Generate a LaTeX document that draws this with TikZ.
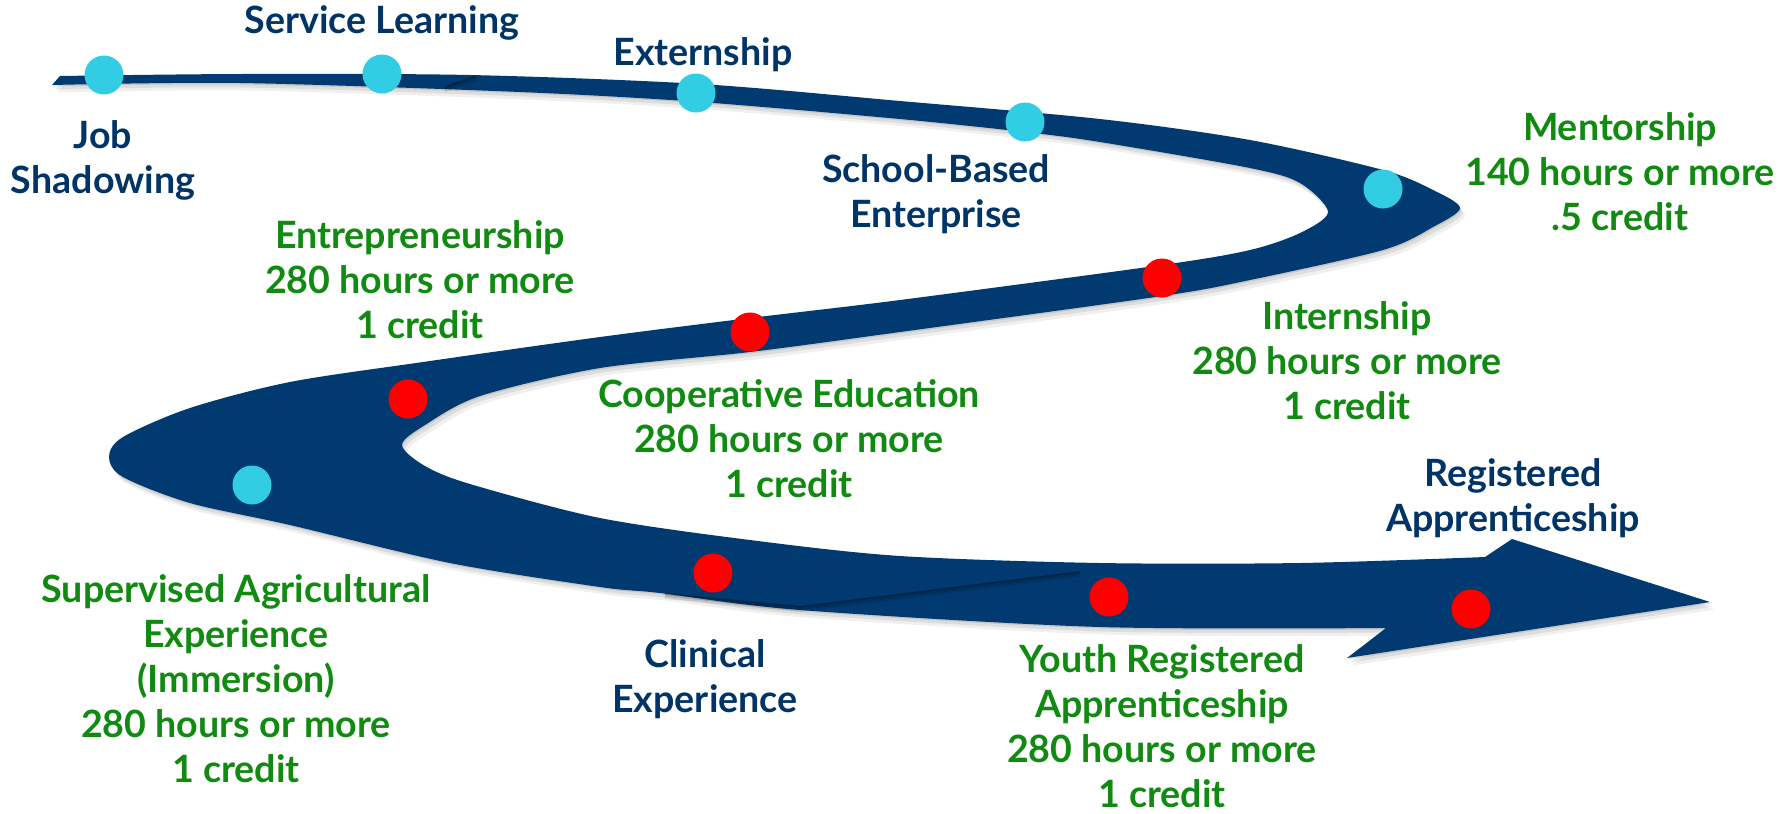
\documentclass[tikz,border=0pt]{standalone}
\usepackage{fontspec}
\setmainfont{Lato}
\usepackage{xcolor}
\usepackage{tikz}
\usetikzlibrary{positioning}

\definecolor{ribbonblue}{RGB}{0,58,112}
\definecolor{labelblue}{RGB}{0,51,102}
\definecolor{labelgreen}{RGB}{16,138,16}
\definecolor{dotcyan}{RGB}{50,205,228}

\newcommand{\labelfont}{\fontsize{10.7pt}{12.8pt}\selectfont\bfseries}

% outline of the s-shaped ribbon, in pixels
\newcommand{\ribbon}{plot[smooth, tension=0.5] coordinates {(60,76) (240,74) (470,75) (700,84) (900,101) (1100,119) (1250,140) (1383,170) (1433,190) (1460,208) (1433,227) (1383,250) (1250,280) (1162,296) (900,332) (750,352) (600,368) (480,396) (425,425) (402,445) (425,466) (470,484) (600,518) (750,540) (900,556) (1100,563) (1300,563) (1485,557)}
	-- (1512,539) -- (1710,602) -- (1347,658) -- (1386,628)
	-- plot[smooth, tension=0.5] coordinates {(1386,628) (1100,627) (800,610) (660,593) (600,587) (450,563) (290,525) (190,503) (123,477) (109,457) (123,437) (190,408) (290,382) (423,362) (600,337) (750,318) (900,300) (1162,265) (1250,250) (1300,233) (1328,212) (1300,183) (1250,168) (1100,142) (1025,132) (900,119) (700,102) (520,92) (240,83) (52,85)}
	-- cycle}

\tikzset{
	wbldot/.style = {
			circle,
			inner sep = 0pt,
			minimum size = 3.9mm,
		},
	cyandot/.style = {wbldot, fill = dotcyan},
	reddot/.style = {wbldot, fill = red},
	% anchored at the baseline of the last line
	bluelabel/.style = {
			align = center,
			anchor = base,
			inner sep = 0pt,
			text = labelblue,
			font = \labelfont,
		},
	greenlabel/.style = {bluelabel, text = labelgreen},
	fold/.style = {draw = black, line width = 0.5pt},
}

\begin{document}
\begin{tikzpicture}[x=0.1mm, y=-0.1mm]
	\useasboundingbox (0,0) rectangle (1792,813);

	% shadow
	\foreach \s/\o in {1/0.10, 3/0.08, 5/0.06}{
		\fill[black, opacity=\o, shift={(\s,1.5*\s)}] \ribbon;
	}

	% ribbon
	\fill[ribbonblue] \ribbon;

	% folds
	\foreach \s/\o in {0/0.35, 2/0.2, 4/0.1}{
		\draw[fold, opacity=\o, shift={(0,\s)}] (665,594) -- (800,607) -- (1080,572);
		\draw[fold, opacity=\o, shift={(0,\s)}] (476,76) -- (445,87);
	}

	% cyan stops
	\node[cyandot] (d-job) at (104,75) {};
	\node[cyandot] (d-service) at (382,74) {};
	\node[cyandot] (d-extern) at (696,93) {};
	\node[cyandot] (d-school) at (1025,122) {};
	\node[cyandot] (d-mentor) at (1383,189) {};
	\node[cyandot] (d-sae) at (252,485) {};

	% red stops
	\node[reddot] (d-intern) at (1162,278) {};
	\node[reddot] (d-coop) at (750,332) {};
	\node[reddot] (d-entre) at (408,399) {};
	\node[reddot] (d-clinical) at (713,573) {};
	\node[reddot] (d-youth) at (1109,597) {};
	\node[reddot] (d-regapp) at (1471,609) {};

	% labels
	\node[bluelabel] (l-service) at (382,33) {Service Learning};
	\node[bluelabel] (l-extern) at (703,65) {Externship};
	\node[bluelabel] (l-job) at (103,193) {Job\\Shadowing};
	\node[bluelabel] (l-school) at (936,227) {School-Based\\Enterprise};
	\node[greenlabel] (l-mentor) at (1620,230) {Mentorship\\140 hours or more\\.5 credit};
	\node[greenlabel] (l-entre) at (420,338) {Entrepreneurship\\280 hours or more\\1 credit};
	\node[greenlabel] (l-intern) at (1347,419) {Internship\\280 hours or more\\1 credit};
	\node[greenlabel] (l-coop) at (789,497) {Cooperative Education\\280 hours or more\\1 credit};
	\node[bluelabel] (l-regapp) at (1513,531) {Registered\\Apprenticeship};
	\node[greenlabel] (l-sae) at (236,782) {Supervised Agricultural\\Experience\\(Immersion)\\280 hours or more\\1 credit};
	\node[bluelabel] (l-clinical) at (705,712) {Clinical\\Experience};
	\node[greenlabel] (l-youth) at (1162,807) {Youth Registered\\Apprenticeship\\280 hours or more\\1 credit};
\end{tikzpicture}
\end{document}
